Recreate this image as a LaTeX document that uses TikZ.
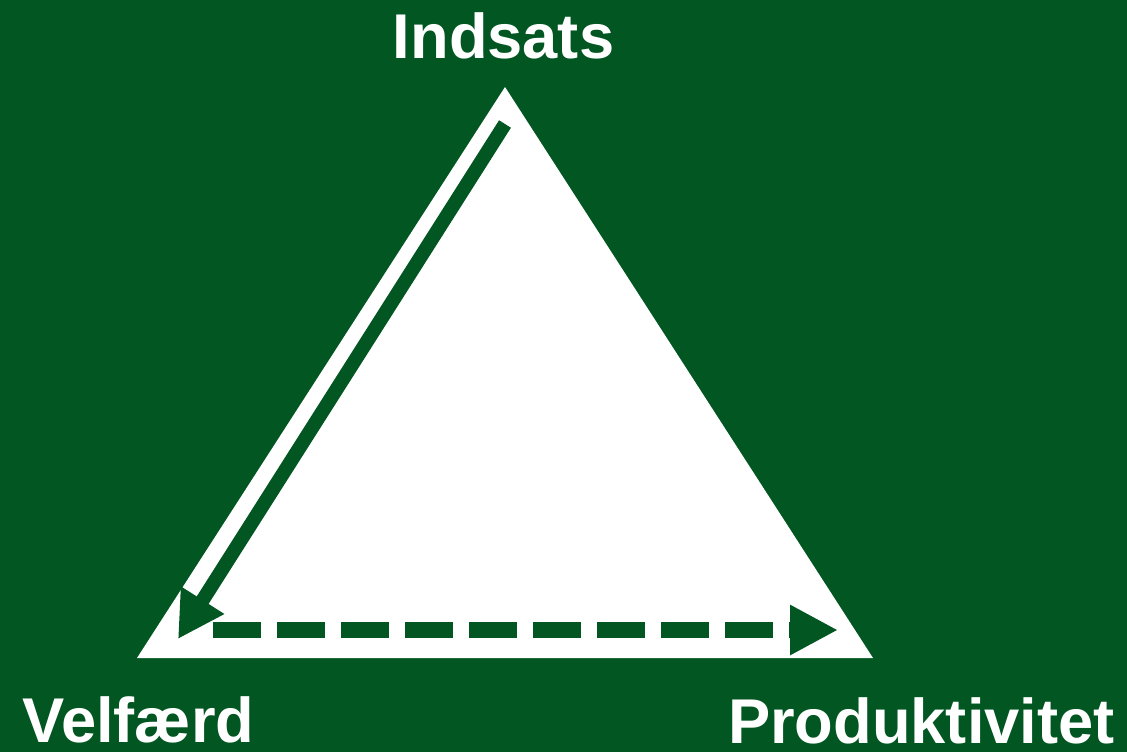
\documentclass[tikz,border=0pt]{standalone}
\usepackage{fontspec}
\setmainfont{Liberation Sans}
\usetikzlibrary{arrows.meta}
\definecolor{bggreen}{RGB}{1,86,33}

\begin{document}
\begin{tikzpicture}[
     x=0.02cm,y=-0.02cm,
     corner/.style={text=white,inner sep=0pt,text depth=0pt,font=\bfseries\fontsize{36}{40}\selectfont},
     flow/.style={draw=bggreen,line width=0.28cm,-{Triangle[length=0.92cm,width=0.96cm]}},
     dashflow/.style={draw=bggreen,line width=0.32cm,dash pattern=on 0.96cm off 0.32cm,-{Triangle[length=0.96cm,width=0.94cm]}}
   ]
   \path[use as bounding box,fill=bggreen] (0,0) rectangle (1127,752);
   % Triangle.
   \coordinate (top) at (505,87);
   \coordinate (left) at (137,658);
   \coordinate (right) at (873,658);
   \fill[white] (top) -- (left) -- (right) -- cycle;
   % Arrows inside.
   \coordinate (downstart) at (505,124);
   \coordinate (downend) at (178,639);
   \draw[flow] (downstart) -- (downend);
   \coordinate (basestart) at (213,630);
   \coordinate (baseend) at (838,630);
   \draw[dashflow] (basestart) -- (baseend);
   % Labels.
   \node[corner,anchor=base] (indsats) at (503.5,58) {Indsats};
   \node[corner,anchor=base west] (velfaerd) at (22,742) {Velfærd};
   \node[corner,anchor=base east] (produktivitet) at (1115,743) {Produktivitet};
 \end{tikzpicture}
\end{document}
